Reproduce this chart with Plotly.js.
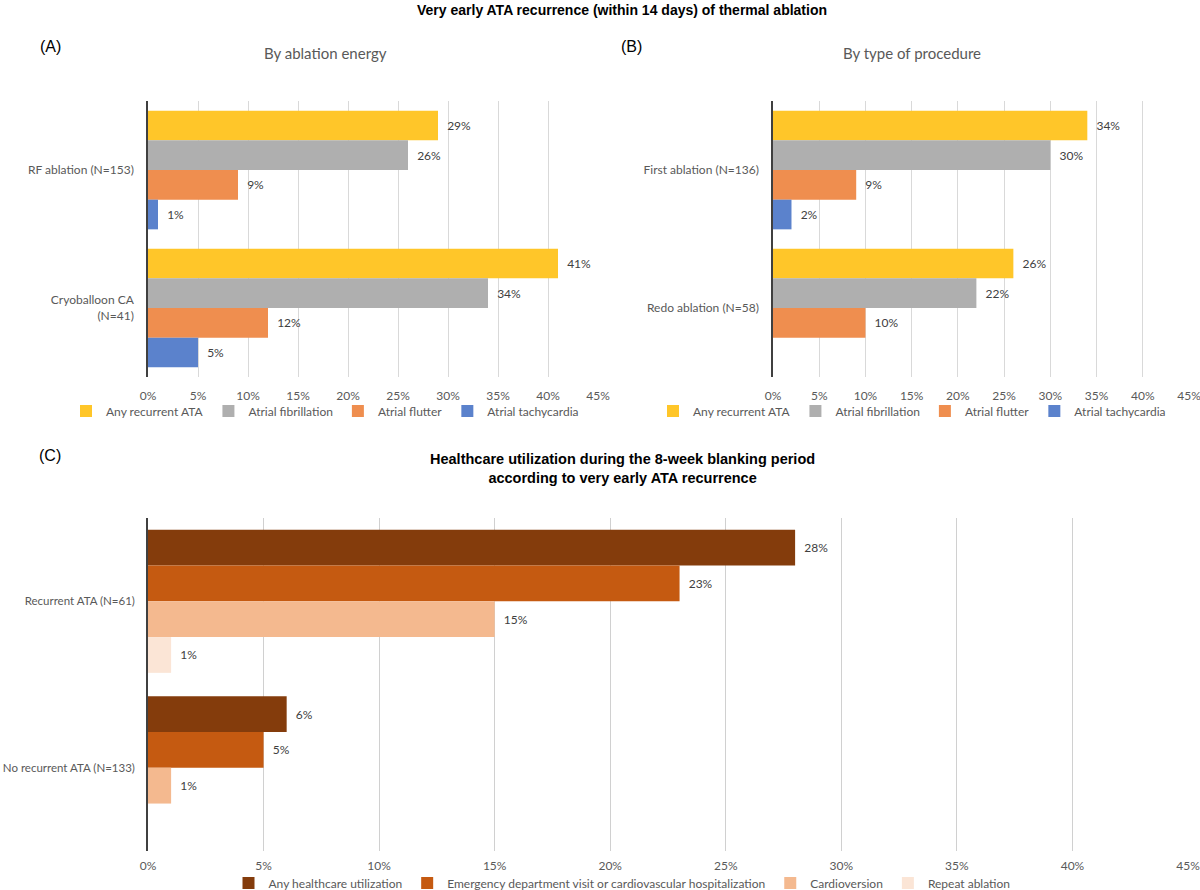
<!DOCTYPE html>
<html>
<head>
<meta charset="utf-8">
<script src="https://cdn.plot.ly/plotly-3.0.1.min.js"></script>
<style>html,body{margin:0;padding:0;background:#fff;}#chart{width:1200px;height:890px;}</style>
</head>
<body>
<div id="chart"></div>
<script>
// ---- Data ----
const catsA = ['RF ablation (N=153)', 'Cryoballoon CA<br>(N=41)'];
const anyA = [29, 41];
const afA = [26, 34];
const aflA = [9, 12];
const atA = [1, 5];

const catsB = ['First ablation (N=136)', 'Redo ablation (N=58)'];
const anyB = [34, 26];
const afB = [30, 22];
const aflB = [9, 10];
const atB = [2, null];

const catsC = ['Recurrent ATA (N=61)', 'No recurrent ATA (N=133)'];
const utilC = [28, 6];
const edC = [23, 5];
const cvC = [15, 1];
const repC = [1, null];

const namesAB = ['Any recurrent ATA', 'Atrial fibrillation', 'Atrial flutter', 'Atrial tachycardia'];
const namesC = ['Any healthcare utilization', 'Emergency department visit or cardiovascular hospitalization', 'Cardioversion', 'Repeat ablation'];
const tickVals = [0, 5, 10, 15, 20, 25, 30, 35, 40, 45];
const tickText = ['0%', '5%', '10%', '15%', '20%', '25%', '30%', '35%', '40%', '45%'];

// ---- Styles ----
const colorsAB = ['#FFC629', '#AFAFAF', '#EF8E4F', '#5B82CC'];
const colorsC = ['#843C0C', '#C55A11', '#F4B98F', '#FBE5D6'];
const FONT = 'Lato, "Open Sans", sans-serif';
const TXT = '#595959';

function mk(cats, vals, name, color, xa, ya, leg) {
  return {
    type: 'bar', orientation: 'h', y: cats, x: vals, name: name,
    marker: {color: color, line: {width: 0}},
    text: vals.map(v => v === null ? '' : '\u00a0\u00a0' + v + '%'),
    textposition: 'outside', cliponaxis: false,
    textfont: {family: FONT, size: 12, color: '#404040'},
    xaxis: xa, yaxis: ya, legend: leg, hoverinfo: 'x+name'
  };
}

const traces = [];
[anyA, afA, aflA, atA].forEach((v, i) => traces.push(mk(catsA, v, namesAB[i], colorsAB[i], 'x', 'y', 'legend')));
[anyB, afB, aflB, atB].forEach((v, i) => traces.push(mk(catsB, v, namesAB[i], colorsAB[i], 'x2', 'y2', 'legend2')));
[utilC, edC, cvC, repC].forEach((v, i) => traces.push(mk(catsC, v, namesC[i], colorsC[i], 'x3', 'y3', 'legend3')));

function xax(domain, anchor, grid, standoff) {
  return {
    domain: domain, anchor: anchor, range: [0, 45], tickvals: tickVals, ticktext: tickText,
    showgrid: true, gridcolor: grid, gridwidth: 1, zeroline: false, showline: false,
    ticks: '', ticklabelstandoff: standoff, ticklabeloverflow: 'allow', automargin: false,
    tickfont: {family: FONT, size: 12, color: TXT}, fixedrange: true
  };
}
function yax(domain, anchor, standoff, fs) {
  return {
    domain: domain, anchor: anchor, autorange: 'reversed', type: 'category',
    showgrid: false, zeroline: false, showline: true, linecolor: '#404040', linewidth: 1.5,
    ticks: '', ticklabelstandoff: standoff, ticklabeloverflow: 'allow', automargin: false,
    tickfont: {family: FONT, size: fs, color: TXT}, fixedrange: true
  };
}
function legend(x, y) {
  return {
    orientation: 'h', x: x, y: y, xanchor: 'center', yanchor: 'middle',
    font: {family: FONT, size: 12, color: TXT}, bgcolor: 'rgba(0,0,0,0)',
    itemwidth: 30, tracegroupgap: 0, itemclick: false, itemdoubleclick: false
  };
}
function ann(text, x, y, size, bold, color, fam) {
  return {
    text: bold ? '<b>' + text + '</b>' : text, x: x / 1200, y: 1 - y / 890, xref: 'paper', yref: 'paper',
    xanchor: 'center', yanchor: 'middle', showarrow: false,
    font: {family: fam || '"Liberation Sans", Arial, sans-serif', size: size, color: color || '#000'}
  };
}

const layout = {
  width: 1200, height: 890, margin: {l: 0, r: 0, t: 0, b: 0, autoexpand: false},
  paper_bgcolor: '#fff', plot_bgcolor: '#fff',
  barmode: 'group', bargap: 0.14, bargroupgap: 0,
  xaxis: xax([148 / 1200, 598 / 1200], 'y', '#D9D9D9', 10),
  yaxis: yax([1 - 377 / 890, 1 - 101 / 890], 'x', 10, 12),
  xaxis2: xax([773 / 1200, 1189 / 1200], 'y2', '#D9D9D9', 10),
  yaxis2: yax([1 - 377 / 890, 1 - 101 / 890], 'x2', 10, 12),
  xaxis3: xax([148 / 1200, 1188 / 1200], 'y3', '#D0D0D0', 6),
  yaxis3: yax([1 - 851 / 890, 1 - 518 / 890], 'x3', 9, 11.5),
  legend: legend(325 / 1200, 1 - 411 / 890),
  legend2: legend(912 / 1200, 1 - 411 / 890),
  legend3: legend(622 / 1200, 1 - 883 / 890),
  showlegend: true,
  annotations: [
    ann('Very early ATA recurrence (within 14 days) of thermal ablation', 622, 10, 14, true),
    ann('(A)', 50, 47, 16, false),
    ann('(B)', 632, 47, 16, false),
    ann('(C)', 50, 455, 16, false),
    ann('By ablation energy', 325, 53, 15, false, TXT, FONT),
    ann('By type of procedure', 912, 53, 15, false, TXT, FONT),
    ann('Healthcare utilization during the 8-week blanking period<br>according to very early ATA recurrence', 622, 468, 14.5, true)
  ]
};

Plotly.newPlot('chart', traces, layout, {displayModeBar: false, staticPlot: false});
</script>
</body>
</html>
